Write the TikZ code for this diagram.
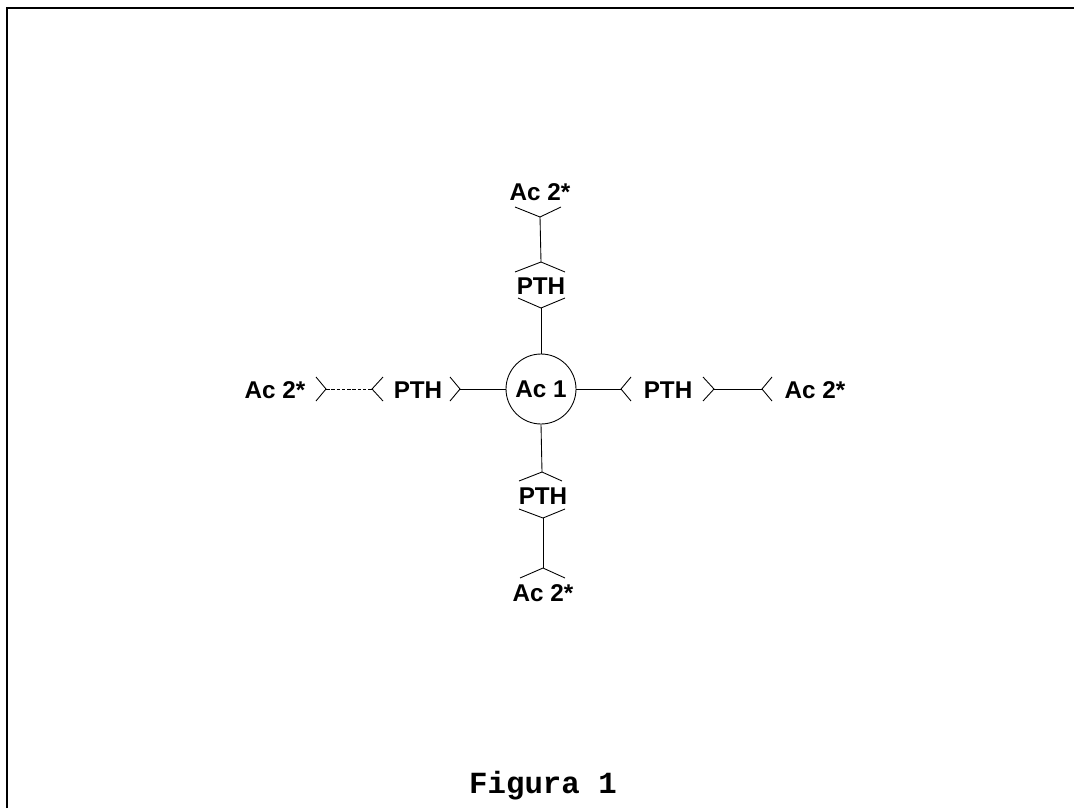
\documentclass[tikz,border=0pt]{standalone}
\usepackage{fontspec}
\setmainfont{Liberation Sans}
\newfontfamily\courierfont{Liberation Mono}
\usepackage{tikz}
\usepackage{xcolor}

\tikzset{
  label/.style={inner sep=1pt, font=\fontsize{13.8}{16}\selectfont\bfseries},
  link/.style={line width=0.5pt},
  chev/.style={line width=0.5pt},
  frameline/.style={line width=1.7pt}
}

\begin{document}
\begin{tikzpicture}[x=0.02cm, y=-0.02cm]
  \useasboundingbox (0,0) rectangle (1074,808);

  % Frame (left and top only)
  \draw[frameline] (7,808) -- (7,8) -- (1074,8);

  % Centre
  \node[circle, draw, line width=0.5pt, minimum size=1.4cm, inner sep=0pt, label] (ac1) at (541,389) {Ac 1};

  % North branch
  \node[label] (pthN) at (541,286) {PTH};
  \node[label] (acN) at (540,192) {Ac 2*};
  \coordinate (pthNb) at (541,308);
  \coordinate (pthNt) at (541,262);
  \coordinate (acNv) at (540,217);
  \draw[chev] (pthNb) +(-23,-10) -- (pthNb) -- +(24,-10);
  \draw[chev] (pthNt) +(-26,10) -- (pthNt) -- +(24,10);
  \draw[chev] (acNv) +(-25,-10) -- (acNv) -- +(21,-10);
  \draw[link] (ac1.north) -- (pthNb);
  \draw[link] (pthNt) -- (acNv);

  % South branch
  \node[label] (pthS) at (543,496) {PTH};
  \node[label] (acS) at (543,593) {Ac 2*};
  \coordinate (pthSt) at (542,472);
  \coordinate (pthSb) at (543,518);
  \coordinate (acSv) at (543,568);
  \draw[chev] (pthSt) +(-23,9) -- (pthSt) -- +(20,9);
  \draw[chev] (pthSb) +(-24,-9) -- (pthSb) -- +(22,-9);
  \draw[chev] (acSv) +(-23,10) -- (acSv) -- +(22,10);
  \draw[link] (ac1.south) -- (pthSt);
  \draw[link] (pthSb) -- (acSv);

  % West branch
  \node[label] (pthW) at (418,390) {PTH};
  \node[label] (acW) at (275,390) {Ac 2*};
  \coordinate (acWv) at (326,389);
  \coordinate (pthWl) at (372,389);
  \coordinate (pthWr) at (460,389);
  \draw[chev] (acWv) +(-10,-12) -- (acWv) -- +(-10,12);
  \draw[chev] (pthWl) +(11,-12) -- (pthWl) -- +(11,12);
  \draw[chev] (pthWr) +(-10,-12) -- (pthWr) -- +(-10,12);
  \draw[link, dash pattern=on 2pt off 1pt] (acWv) -- (pthWl);
  \draw[link] (pthWr) -- (ac1.west);

  % East branch
  \node[label] (pthE) at (668,390) {PTH};
  \node[label] (acE) at (815,390) {Ac 2*};
  \coordinate (pthEl) at (621,389);
  \coordinate (pthEr) at (714,389);
  \coordinate (acEv) at (762,389);
  \draw[chev] (pthEl) +(10,-12) -- (pthEl) -- +(10,12);
  \draw[chev] (pthEr) +(-11,-12) -- (pthEr) -- +(-11,12);
  \draw[chev] (acEv) +(10,-12) -- (acEv) -- +(10,12);
  \draw[link] (ac1.east) -- (pthEl);
  \draw[link] (pthEr) -- (acEv);

  % Caption
  \node[font=\courierfont\bfseries\fontsize{17.5}{20}\selectfont] (fig) at (543,786) {Figura 1};
\end{tikzpicture}
\end{document}
